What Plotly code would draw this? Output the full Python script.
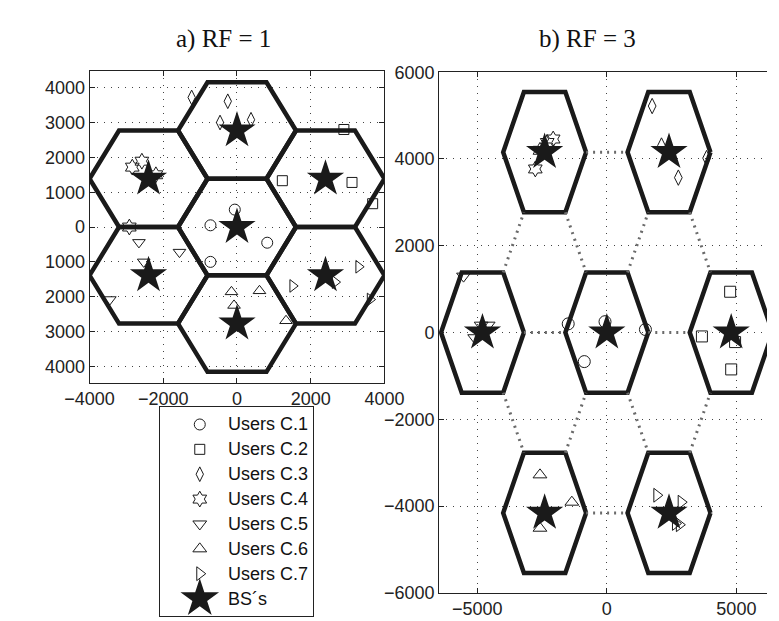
import numpy as np
import plotly.graph_objects as go

W, H = 779, 621
R = 1600.0  # cell radius

# ---------------- data: RF = 1 (left) ----------------
rf1_bs_x = [0, 0, 2400, 2400, 0, -2400, -2400]
rf1_bs_y = [0, 2771, 1386, -1386, -2771, -1386, 1386]

class_names = ["Users C.1", "Users C.2", "Users C.3", "Users C.4",
               "Users C.5", "Users C.6", "Users C.7"]
class_symbols = ["circle-open", "square-open", "diamond-tall-open", "hexagram-open",
                 "triangle-down-open", "triangle-up-open", "triangle-right-open"]
bs_name = "BS\u00b4s"

rf1_users_x = [
    [-60, -720, 820, -720],
    [2900, 1230, 3120, 3680],
    [-1230, -250, -460, 380],
    [-2840, -2580, -2200, -2920],
    [-2660, -2530, -1560, -3450],
    [-150, 610, -80, 1330],
    [1510, 3300, 2660, 3610],
]
rf1_users_y = [
    [500, 50, -450, -1000],
    [2800, 1330, 1280, 670],
    [3720, 3610, 3000, 3080],
    [1720, 1890, 1500, 0],
    [-440, -1000, -720, -2080],
    [-1860, -1830, -2250, -2690],
    [-1690, -1140, -1580, -2080],
]

# ---------------- data: RF = 3 (right) ----------------
rf3_bs_x = [0, 4800, 2400, -2400, -4800, -2400, 2400]
rf3_bs_y = [0, 0, 4157, 4157, 0, -4157, -4157]

rf3_users_x = [
    [-1490, -70, 1490, -870],
    [4760, 3670, 4950, 4800],
    [1750, 2110, 3850, 2760],
    [-2070, -2300, -2760, -2580],
    [-5530, -4850, -4580, -5100],
    [-2580, -1350, -2580],
    [1930, 2870, 2650, 2800],
]
rf3_users_y = [
    [200, 250, 70, -670],
    [940, -90, -220, -850],
    [5220, 4310, 4020, 3570],
    [4460, 4380, 3770, 4200],
    [1300, 170, 170, -120],
    [-3280, -3910, -4510],
    [-3750, -3910, -4400, -4430],
]

# dotted connectors between co-channel cells (start/end points)
conn_x0 = [-3200, 1600, -800, -800, -4000, -1600, 800, 3200, -4000, -1600, 800, 3200]
conn_y0 = [0, 0, 4157, -4157, 1386, 2771, 1386, 2771, -1386, -2771, -1386, -2771]
conn_x1 = [-1600, 3200, 800, 800, -3200, -800, 1600, 4000, -3200, -800, 1600, 4000]
conn_y1 = [0, 0, 4157, -4157, 2771, 1386, 2771, 1386, -2771, -1386, -2771, -1386]

# tick labels
rf1_xticks = [-4000, -2000, 0, 2000, 4000]
rf1_xticktext = ["\u22124000", "\u22122000", "0", "2000", "4000"]
rf1_yticks = [-4000, -3000, -2000, -1000, 0, 1000, 2000, 3000, 4000]
rf1_yticktext = ["4000", "3000", "2000", "1000", "0", "1000", "2000", "3000", "4000"]
rf3_xticks = [-5000, 0, 5000]
rf3_xticktext = ["\u22125000", "0", "5000"]
rf3_yticks = [-6000, -4000, -2000, 0, 2000, 4000, 6000]
rf3_yticktext = ["\u22126000", "\u22124000", "\u22122000", "0", "2000", "4000", "6000"]


def hex_path(cxs, cys):
    xs, ys = [], []
    ang = np.deg2rad(np.arange(0, 361, 60))
    for cx, cy in zip(cxs, cys):
        xs += list(cx + R * np.cos(ang)) + [None]
        ys += list(cy + R * np.sin(ang)) + [None]
    return xs, ys


fig = go.Figure()
INK = "#1a1a1a"
SANS = "Liberation Sans, Arial, sans-serif"
user_sizes_rf1 = [11, 10, 10.5, 12, 11, 11, 11]
user_sizes_rf3 = [12, 11, 11, 12, 12, 12, 12]

# hexagons
hx, hy = hex_path(rf1_bs_x, rf1_bs_y)
fig.add_trace(go.Scatter(x=hx, y=hy, mode="lines", line=dict(color=INK, width=4.5),
                         hoverinfo="skip", xaxis="x", yaxis="y"))
hx, hy = hex_path(rf3_bs_x, rf3_bs_y)
fig.add_trace(go.Scatter(x=hx, y=hy, mode="lines", line=dict(color=INK, width=4.5),
                         hoverinfo="skip", xaxis="x2", yaxis="y2"))

# connectors
cx, cy = [], []
for a, b, c, d in zip(conn_x0, conn_y0, conn_x1, conn_y1):
    cx += [a, c, None]
    cy += [b, d, None]
fig.add_trace(go.Scatter(x=cx, y=cy, mode="lines",
                         line=dict(color="#6a6a6a", width=3, dash="2px,5px"),
                         hoverinfo="skip", xaxis="x2", yaxis="y2"))

# users
for i, name in enumerate(class_names):
    fig.add_trace(go.Scatter(x=rf1_users_x[i], y=rf1_users_y[i], mode="markers", name=name,
                             marker=dict(symbol=class_symbols[i], size=user_sizes_rf1[i],
                                         color=INK, line=dict(width=1, color=INK)),
                             xaxis="x", yaxis="y"))
    fig.add_trace(go.Scatter(x=rf3_users_x[i], y=rf3_users_y[i], mode="markers", name=name,
                             marker=dict(symbol=class_symbols[i], size=user_sizes_rf3[i],
                                         color=INK, line=dict(width=1, color=INK)),
                             xaxis="x2", yaxis="y2"))

# base stations
fig.add_trace(go.Scatter(x=rf1_bs_x, y=rf1_bs_y, mode="markers", name=bs_name,
                         marker=dict(symbol="star", size=28, color=INK, line=dict(width=0)),
                         xaxis="x", yaxis="y"))
fig.add_trace(go.Scatter(x=rf3_bs_x, y=rf3_bs_y, mode="markers", name=bs_name,
                         marker=dict(symbol="star", size=28, color=INK, line=dict(width=0)),
                         xaxis="x2", yaxis="y2"))

# ---------------- legend box (own axes, pixel-like units) ----------------
leg_names = class_names + [bs_name]
leg_symbols = class_symbols + ["star"]
leg_sizes = [11, 10, 10.5, 12, 12, 12, 12, 29]
leg_rows = [18 + 25.7 * i for i in range(len(leg_names))]
for i, (nm, sym) in enumerate(zip(leg_names, leg_symbols)):
    fig.add_trace(go.Scatter(x=[42], y=[leg_rows[i]], mode="markers", name=nm,
                             marker=dict(symbol=sym, size=leg_sizes[i], color=INK,
                                         line=dict(width=1 if i < 7 else 0, color=INK)),
                             hoverinfo="skip", xaxis="x3", yaxis="y3"))

leg_ann = [dict(text=nm, x=70, y=leg_rows[i], xref="x3", yref="y3", showarrow=False,
                xanchor="left", yanchor="middle",
                font=dict(family=SANS, size=18, color="#111111"))
           for i, nm in enumerate(leg_names)]

tickfont = dict(family=SANS, size=18, color="#222222")
common = dict(showgrid=True, gridcolor="#444444", griddash="1px,6px", gridwidth=1,
              zeroline=False, showline=True, linecolor="#222222", linewidth=1,
              ticks="inside", ticklen=5, tickcolor="#222222", tickfont=tickfont)

fig.update_layout(
    width=W, height=H,
    margin=dict(l=0, r=0, t=0, b=0),
    paper_bgcolor="white", plot_bgcolor="white",
    showlegend=False,
    xaxis=dict(domain=[60 / W, 373 / W], range=[-4000, 4000], anchor="y",
               tickvals=rf1_xticks, ticktext=rf1_xticktext, mirror="ticks", **common),
    yaxis=dict(domain=[(H - 377) / H, (H - 55) / H], range=[-4472, 4472], anchor="x",
               tickvals=rf1_yticks, ticktext=rf1_yticktext, mirror="ticks", **common),
    xaxis2=dict(domain=[431 / W, 1.0], range=[-6473, 6182], anchor="y2",
                tickvals=rf3_xticks, ticktext=rf3_xticktext, mirror="ticks", **common),
    yaxis2=dict(domain=[(H - 594) / H, (H - 56) / H], range=[-6000, 6000], anchor="x2",
                tickvals=rf3_yticks, ticktext=rf3_yticktext, mirror=False, **common),
    xaxis3=dict(domain=[135 / W, 297 / W], range=[0, 162], anchor="y3",
                showgrid=False, zeroline=False, showticklabels=False, ticks="",
                showline=True, mirror=True, linecolor="#222222", linewidth=1, fixedrange=True),
    yaxis3=dict(domain=[(H - 618) / H, (H - 402) / H], range=[216, 0], anchor="x3",
                showgrid=False, zeroline=False, showticklabels=False, ticks="",
                showline=True, mirror=True, linecolor="#222222", linewidth=1, fixedrange=True),
    annotations=leg_ann + [
        dict(text="a) RF = 1", x=202 / W, y=1 - 22 / H, xref="paper", yref="paper",
             showarrow=False, xanchor="center", yanchor="middle",
             font=dict(family="Liberation Serif, serif", size=25, color="#111111")),
        dict(text="b) RF = 3", x=588 / W, y=1 - 22 / H, xref="paper", yref="paper",
             showarrow=False, xanchor="center", yanchor="middle",
             font=dict(family="Liberation Serif, serif", size=25, color="#111111")),
    ],
)

fig.write_html("out.html")
